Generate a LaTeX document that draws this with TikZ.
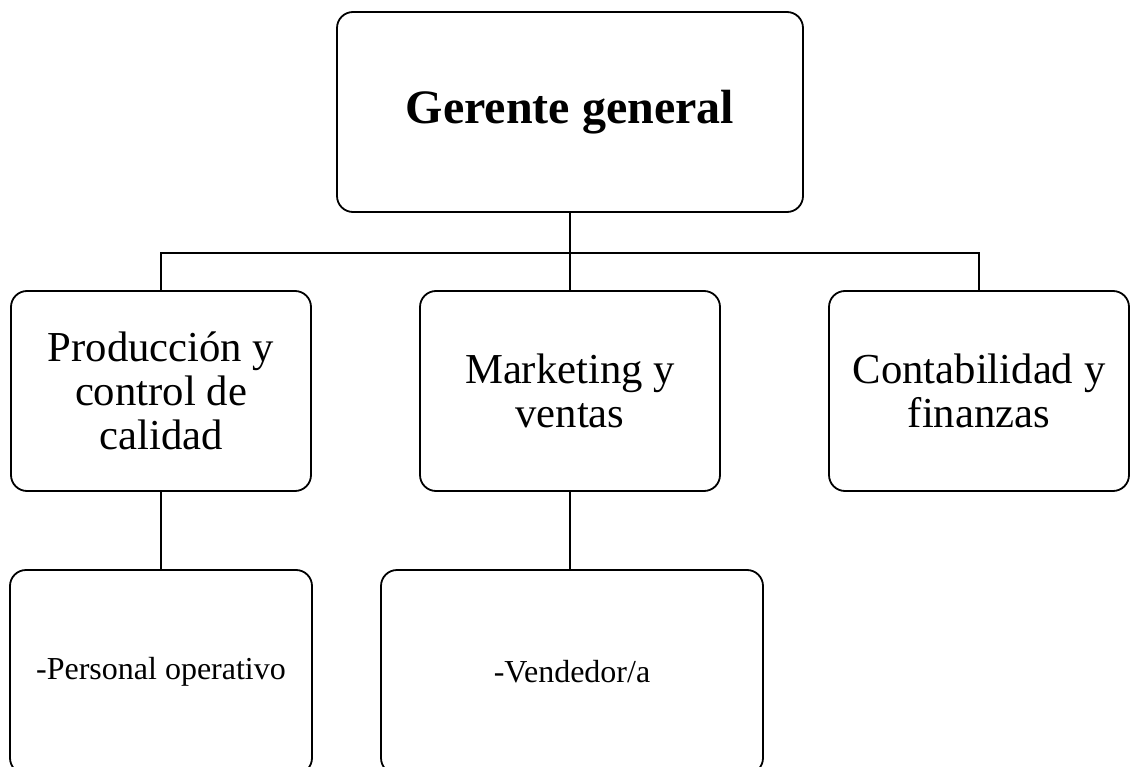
\documentclass[tikz,border=0pt]{standalone}
\usepackage{fontspec}
\setmainfont{Liberation Serif}
\usetikzlibrary{positioning}

\begin{document}
\begin{tikzpicture}[
    x=1pt, y=1pt,
    node distance=279pt,
    line width=1.8pt,
    area/.style={
		rectangle,
		rounded corners=16pt,
		draw=black,
		text centered,
		align=center,
		inner sep=0pt,
		minimum width=300pt,
		minimum height=200pt,
		font=\fontsize{42.7}{44}\selectfont,
		fill=white
	},
	puesto/.style={
		area,
		minimum height=204pt,
		yshift=-2pt,
		font=\fontsize{32}{38}\selectfont
	}
  ]
  \useasboundingbox (0,0) rectangle (1132,-767);

    % the boxes first
  \node [area, minimum width=466pt, font=\fontsize{48}{52}\selectfont\bfseries] (gerente) at (570,-112) {Gerente general};

  \node [area, below of=gerente, xshift=-409pt] (produccion) {Producción y\\control de\\calidad};
  \node [area, below of=gerente] (marketing) {Marketing y\\ventas};
  \node [area, below of=gerente, xshift=409pt] (contabilidad) {Contabilidad y\\finanzas};

  \node [puesto, below of=produccion, minimum width=302pt] (personal) {-Personal operativo};
  \node [puesto, below of=marketing, minimum width=382pt, xshift=2pt] (vendedor) {-Vendedor/a};

  \draw (gerente.south) -- ++(0,-40) coordinate (bus);
  \draw (bus) -| (produccion.north);
  \draw (bus) -- (marketing.north);
  \draw (bus) -| (contabilidad.north);
  \draw (produccion) -- (personal);
  \draw (marketing.south) -- (vendedor.north -| marketing.south);

\end{tikzpicture}
\end{document}
